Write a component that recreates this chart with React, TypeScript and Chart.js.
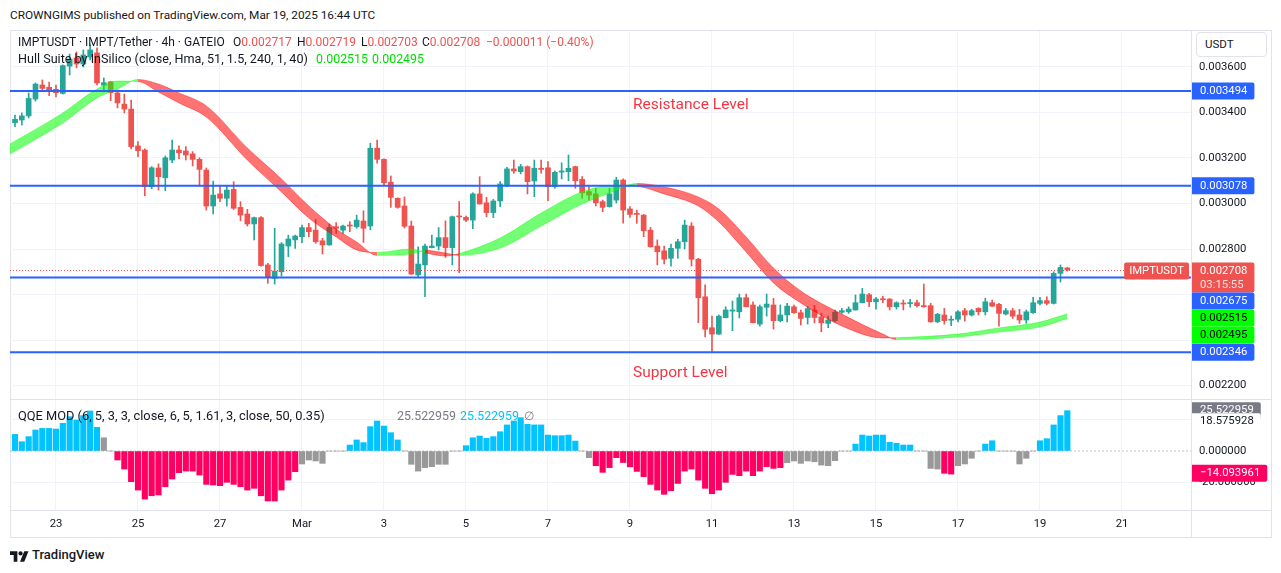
import React, { useEffect, useRef } from "react";
import { Chart, registerables } from "chart.js";

Chart.register(...registerables);

const FONT = "Roboto, 'Liberation Sans', Arial, sans-serif";

// 4-hour bars, index 0 = Feb 22 00:00 UTC
const tickBars = [6, 18, 30, 42, 54, 66, 78, 90, 102, 114, 126, 138, 150, 162];
const tickLabels = ["23", "25", "27", "Mar", "3", "5", "7", "9", "11", "13", "15", "17", "19", "21"];

const opens = [
  0.003355, 0.003367, 0.003385, 0.003459, 0.003521, 0.003511, 0.003502, 0.003484, 0.003604, 0.00364,
  0.003613, 0.003644, 0.003662, 0.00352, 0.003535, 0.003486, 0.003437, 0.003415, 0.003253, 0.003235,
  0.003074, 0.003156, 0.003113, 0.003191, 0.003235, 0.003231, 0.003218, 0.003194, 0.003147, 0.002989,
  0.003042, 0.003023, 0.003062, 0.002983, 0.002954, 0.00291, 0.002938, 0.00273, 0.002671, 0.0027,
  0.002813, 0.00284, 0.002854, 0.002894, 0.002883, 0.002836, 0.002818, 0.002898, 0.002883, 0.002905,
  0.002898, 0.002923, 0.002901, 0.003243, 0.003194, 0.003094, 0.003023, 0.002989, 0.002901, 0.002686,
  0.00273, 0.002806, 0.002813, 0.00285, 0.002806, 0.002945, 0.002939, 0.002927, 0.003042, 0.003003,
  0.00296, 0.003011, 0.003081, 0.003152, 0.00314, 0.003162, 0.003099, 0.003155, 0.003157, 0.003074,
  0.003138, 0.00314, 0.003162, 0.003106, 0.003052, 0.003042, 0.003008, 0.002986, 0.003015, 0.003103,
  0.002976, 0.002957, 0.002949, 0.002883, 0.002813, 0.002792, 0.002759, 0.002803, 0.002832, 0.002901,
  0.002755, 0.00259, 0.002454, 0.002426, 0.002498, 0.002527, 0.002524, 0.002586, 0.002554, 0.00247,
  0.002544, 0.002554, 0.002485, 0.00251, 0.002546, 0.00252, 0.002499, 0.002532, 0.002502, 0.002473,
  0.002485, 0.002522, 0.002524, 0.002532, 0.002564, 0.002599, 0.002568, 0.00258, 0.00258, 0.002546,
  0.002561, 0.00256, 0.002564, 0.002551, 0.002551, 0.00248, 0.00251, 0.002487, 0.002491, 0.002529,
  0.00251, 0.002539, 0.002524, 0.002564, 0.002557, 0.002514, 0.002529, 0.00251, 0.002488, 0.00252,
  0.002561, 0.002573, 0.002561, 0.002693, 0.002717,
];
const highs = [
  0.003389, 0.003398, 0.003486, 0.00353, 0.003543, 0.003534, 0.003521, 0.003609, 0.003657, 0.003666,
  0.003675, 0.003697, 0.003684, 0.003552, 0.003536, 0.003499, 0.003481, 0.003455, 0.003272, 0.00324,
  0.003162, 0.003174, 0.003209, 0.003279, 0.003253, 0.00325, 0.003228, 0.003201, 0.003156, 0.003099,
  0.003077, 0.003077, 0.003096, 0.003008, 0.002974, 0.00294, 0.002942, 0.002737, 0.002891, 0.002828,
  0.002861, 0.002861, 0.002905, 0.002913, 0.00293, 0.002847, 0.00291, 0.002916, 0.002905, 0.00292,
  0.002949, 0.002968, 0.003265, 0.003279, 0.003196, 0.003121, 0.003025, 0.003029, 0.002923, 0.002809,
  0.002822, 0.002861, 0.002894, 0.002924, 0.002945, 0.003008, 0.002945, 0.003047, 0.003118, 0.003027,
  0.003018, 0.003096, 0.003159, 0.003191, 0.003172, 0.003165, 0.003191, 0.003191, 0.003184, 0.003143,
  0.003179, 0.003213, 0.003164, 0.003118, 0.003074, 0.003067, 0.003015, 0.003067, 0.003115, 0.003108,
  0.002986, 0.002971, 0.002952, 0.002895, 0.00284, 0.002813, 0.002822, 0.002843, 0.002927, 0.002916,
  0.002759, 0.002642, 0.002505, 0.00251, 0.002546, 0.002571, 0.002602, 0.002602, 0.002568, 0.002554,
  0.002602, 0.002583, 0.002554, 0.002561, 0.002554, 0.002532, 0.002547, 0.002552, 0.002517, 0.002505,
  0.002532, 0.002539, 0.002546, 0.002598, 0.002627, 0.002605, 0.002588, 0.002593, 0.002582, 0.002568,
  0.002576, 0.002579, 0.002576, 0.002646, 0.002561, 0.002517, 0.002539, 0.002505, 0.002529, 0.002539,
  0.002535, 0.002542, 0.002583, 0.002576, 0.002561, 0.002539, 0.002539, 0.002535, 0.002532, 0.002588,
  0.002588, 0.00259, 0.0027, 0.00273, 0.002719,
];
const lows = [
  0.003338, 0.003345, 0.003376, 0.00345, 0.003491, 0.003474, 0.003468, 0.003481, 0.003565, 0.003596,
  0.0036, 0.003631, 0.003521, 0.00349, 0.003452, 0.00342, 0.003398, 0.00324, 0.003206, 0.003034,
  0.003065, 0.003059, 0.003056, 0.003179, 0.003196, 0.003191, 0.003165, 0.003077, 0.002971, 0.002954,
  0.003008, 0.002989, 0.002974, 0.002924, 0.002901, 0.00284, 0.002725, 0.002649, 0.002646, 0.002681,
  0.002766, 0.002803, 0.002828, 0.002854, 0.002825, 0.002778, 0.002816, 0.002869, 0.002869, 0.002876,
  0.002891, 0.002829, 0.002884, 0.003177, 0.003081, 0.002983, 0.002979, 0.002892, 0.002688, 0.002677,
  0.00259, 0.002805, 0.002796, 0.002763, 0.00273, 0.002696, 0.00292, 0.002889, 0.002997, 0.002942,
  0.002938, 0.002986, 0.003074, 0.003133, 0.00313, 0.003042, 0.00303, 0.003133, 0.003012, 0.003067,
  0.003108, 0.0031, 0.003067, 0.003023, 0.003015, 0.002989, 0.002964, 0.002984, 0.003002, 0.002913,
  0.002939, 0.002913, 0.002854, 0.002808, 0.00273, 0.002734, 0.002725, 0.002759, 0.0028, 0.002725,
  0.002476, 0.002414, 0.002345, 0.002424, 0.002497, 0.002441, 0.002497, 0.002545, 0.002475, 0.002461,
  0.002505, 0.002448, 0.00248, 0.00248, 0.002517, 0.002466, 0.00247, 0.002475, 0.002436, 0.002454,
  0.00248, 0.002517, 0.002517, 0.002531, 0.002563, 0.002546, 0.002535, 0.002564, 0.002532, 0.002536,
  0.002532, 0.002544, 0.002544, 0.002544, 0.002478, 0.002476, 0.00247, 0.002463, 0.00248, 0.002483,
  0.002505, 0.00251, 0.00251, 0.002546, 0.002461, 0.00251, 0.002495, 0.002473, 0.002473, 0.002517,
  0.002554, 0.002554, 0.002558, 0.002655, 0.002703,
];
const closes = [
  0.00337, 0.003385, 0.003462, 0.003525, 0.003506, 0.003494, 0.003487, 0.003606, 0.003635, 0.003613,
  0.003653, 0.003675, 0.00353, 0.003531, 0.003487, 0.003442, 0.003415, 0.00325, 0.003232, 0.003074,
  0.003157, 0.003118, 0.003201, 0.003235, 0.003223, 0.003213, 0.003194, 0.00315, 0.002989, 0.003037,
  0.003023, 0.003059, 0.002979, 0.002949, 0.00291, 0.002938, 0.002727, 0.002674, 0.002703, 0.002822,
  0.002844, 0.002857, 0.002894, 0.002876, 0.002832, 0.002818, 0.002895, 0.002891, 0.002901, 0.002901,
  0.002927, 0.002891, 0.003243, 0.003194, 0.003091, 0.003027, 0.002983, 0.0029, 0.00269, 0.002734,
  0.002813, 0.002813, 0.00285, 0.002806, 0.002942, 0.002941, 0.002927, 0.003042, 0.002998, 0.00296,
  0.003011, 0.003086, 0.003152, 0.003143, 0.003162, 0.003096, 0.003155, 0.00315, 0.003074, 0.003137,
  0.003143, 0.003155, 0.0031, 0.003047, 0.003037, 0.003003, 0.002983, 0.003042, 0.003103, 0.002971,
  0.002952, 0.002952, 0.00288, 0.00281, 0.002788, 0.002755, 0.002803, 0.002832, 0.002905, 0.002755,
  0.002586, 0.002447, 0.002426, 0.002505, 0.002532, 0.002532, 0.002586, 0.002546, 0.002476, 0.002546,
  0.002558, 0.002485, 0.00251, 0.002549, 0.00252, 0.002495, 0.002538, 0.002499, 0.002476, 0.002488,
  0.002522, 0.002529, 0.002536, 0.002564, 0.002602, 0.002568, 0.00258, 0.002577, 0.002546, 0.002564,
  0.002558, 0.002564, 0.002551, 0.002546, 0.00248, 0.002513, 0.002485, 0.002491, 0.002524, 0.00251,
  0.002529, 0.002524, 0.002568, 0.002549, 0.002517, 0.002529, 0.002505, 0.002488, 0.002524, 0.002564,
  0.002573, 0.002561, 0.002693, 0.002719, 0.002708,
];

// Hull Suite band: HMA and its 2-bar-lagged copy, sampled at the bars below
const hullBars = [-1, 7, 12, 15, 18, 21, 24, 28, 34, 39, 43, 47, 50, 53, 58, 60, 63, 65, 71, 77, 83, 87, 91, 95, 100, 103, 107, 111, 115, 121, 127, 129, 138, 144, 150, 154];
const hullFast = [
  0.003257, 0.003398, 0.003503, 0.003538, 0.003536, 0.00349, 0.003442, 0.00338, 0.003191, 0.003051,
  0.002936, 0.002853, 0.002796, 0.002785, 0.0028, 0.002784, 0.002769, 0.00278, 0.002848, 0.002958,
  0.003051, 0.003077, 0.003075, 0.003042, 0.002989, 0.002919, 0.002787, 0.002651, 0.002563, 0.002462,
  0.002409, 0.00241, 0.002426, 0.002453, 0.002479, 0.002515,
];
const hullSlow = [
  0.003213, 0.003354, 0.003464, 0.003503, 0.003545, 0.003525, 0.003486, 0.003429, 0.003244, 0.003108,
  0.002989, 0.002888, 0.002831, 0.002772, 0.002778, 0.002794, 0.002782, 0.002772, 0.002804, 0.002901,
  0.002998, 0.003046, 0.003088, 0.003073, 0.003029, 0.002976, 0.002853, 0.002716, 0.002615, 0.002514,
  0.002426, 0.002402, 0.002413, 0.002435, 0.002457, 0.002495,
];

const levelPrices = [0.003494, 0.003078, 0.002675, 0.002346];
const priceTicks = [0.0022, 0.0024, 0.0026, 0.0028, 0.003, 0.0032, 0.0034, 0.0036];
const hiddenPriceTicks = [0.0024, 0.0026];
const countdown = "03:15:55";

// QQE MOD histogram, one column per bar; tone b = above, p = below, g = neutral
const qqeValues = [
  10.5, 5.9, 9.1, 13.3, 14.3, 14.3, 13.9, 17.5, 21.7, 19.6,
  22.4, 25.3, 15.0, 8.4, 0, -5.7, -11.4, -19.4, -24.7, -30.4,
  -28.3, -27.8, -22.6, -17.7, -13.7, -12.7, -12.7, -15.2, -21.1, -21.5,
  -21.9, -19.8, -21.1, -22.6, -24.7, -23.6, -28.3, -31.6, -31.6, -24.7,
  -18.4, -13.1, -8.2, -5.7, -6.3, -7.8, 0, 0, 0, 3.8,
  7.0, 5.3, 15.4, 19.0, 15.8, 11.6, 7.0, 0, -8.4, -12.7,
  -10.5, -9.9, -8.4, -8.4, 0, 0, 3.4, 8.4, 9.5, 8.0,
  9.1, 12.2, 16.5, 19.0, 21.1, 16.9, 16.5, 16.5, 10.1, 9.7,
  9.7, 10.1, 6.3, 0, -4.2, -9.3, -13.5, -10.5, -4.2, -7.3,
  -10.0, -12.9, -16.2, -21.1, -24.7, -27.4, -25.1, -20.5, -12.7, -11.4,
  -18.4, -23.6, -27.0, -24.7, -19.8, -14.8, -15.6, -12.7, -15.6, -12.7,
  -9.9, -11.0, -10.5, -7.4, -6.3, -7.8, -6.3, -6.8, -8.9, -9.3,
  -6.1, 0, 0, 4.4, 10.1, 9.5, 10.1, 10.1, 5.5, 4.9,
  3.8, 3.8, 0, 0, -11.0, -11.4, -14.1, -14.6, -9.3, -8.2,
  -4.6, 0, 4.4, 6.5, 0, 0, 0, -8.2, -4.6, 0,
  6.5, 7.8, 16.5, 22.4, 25.522959,
];
const qqeTones = (
  "bbbbbbbbbb" + "bbbggppppp" + "pppppppppp" + "pppppppppp" + "ppgggggggb" +
  "bbbbbbbggg" + "ggggggbbbb" + "bbbbbbbbbb" + "bbbggppppp" + "pppppppppp" +
  "pppppppppp" + "pppggggggg" + "gggbbbbbbb" + "bbggggppgg" + "ggbbgggggg" + "bbbbb"
).split("");
const qqeTicks = [-20, 0, 20];
const qqeHiddenTicks = [20];
const qqeSecondary = -14.093961;
const qqeUpper = 18.575928;

// view ranges
const xMin = -0.73;
const xMax = 172.1;
const yMin = 0.0021407;
const yMax = 0.0037582;
const qMin = -37.3;
const qMax = 32.9;

const UP = "#26a69a";
const DOWN = "#ef5350";
const BLUE = "#2962ff";
const GRID = "#f0f3fa";
const FRAME = "#e0e3eb";
const TEXT = "#131722";
const TONE: Record<string, string> = { b: "#00c3ff", p: "#ff0062", g: "#999999" };

const last = opens.length - 1;
const fmt = (v: number) => v.toFixed(6).replace("-", "\u2212");
const hullRising = (k: number) => hullFast[k] >= hullSlow[k];

const AXIS_FONT = { family: FONT, size: 11.3 };

function layoutTags(tags: any[], minTop: number) {
  const sorted = [...tags].sort((a, b) => a.py - b.py);
  let bottom = minTop;
  for (const t of sorted) {
    const h = t.rows.length > 1 ? 30 : 17;
    let top = t.rows.length > 1 ? t.py - 7.5 : t.py - 8.5;
    if (top < bottom) top = bottom;
    t.top = top;
    t.h = h;
    bottom = top + h;
  }
  return sorted;
}

const overlayPlugin = {
  id: "paneOverlay",
  afterDraw(chart: any) {
    const { ctx, chartArea, scales } = chart;
    const y = scales.y;
    const yq = scales.yq;
    const x = scales.x;
    const W = chart.width;
    const H = chart.height;
    ctx.save();

    // pane frame
    ctx.strokeStyle = FRAME;
    ctx.lineWidth = 1;
    ctx.beginPath();
    ctx.moveTo(Math.round(y.left) + 0.5, 0);
    ctx.lineTo(Math.round(y.left) + 0.5, H);
    ctx.moveTo(0, Math.round(yq.top) + 0.5);
    ctx.lineTo(W, Math.round(yq.top) + 0.5);
    ctx.moveTo(0, Math.round(x.top) + 0.5);
    ctx.lineTo(W, Math.round(x.top) + 0.5);
    ctx.stroke();

    ctx.font = `${AXIS_FONT.size}px ${FONT}`;
    ctx.textBaseline = "middle";

    // last price line and symbol tag
    const lastPx = y.getPixelForValue(closes[last]);
    const symText = "IMPTUSDT";
    const symW = ctx.measureText(symText).width + 10;
    const symRight = y.left - 2;
    const symLeft = symRight - symW;
    ctx.strokeStyle = DOWN;
    ctx.setLineDash([1, 2]);
    ctx.beginPath();
    ctx.moveTo(chartArea.left, Math.round(lastPx) + 0.5);
    ctx.lineTo(symLeft, Math.round(lastPx) + 0.5);
    ctx.stroke();
    ctx.setLineDash([]);
    ctx.fillStyle = DOWN;
    ctx.beginPath();
    ctx.roundRect(symLeft, lastPx - 7.5, symW, 17, 2);
    ctx.fill();
    ctx.fillStyle = "#ffffff";
    ctx.fillText(symText, symLeft + 5, lastPx + 1);

    const boxLeft = y.left + 1;
    const drawTags = (list: any[]) => {
      for (const t of list) {
        const w = Math.max(...t.rows.map((r: string) => ctx.measureText(r).width)) + 15;
        ctx.fillStyle = t.bg;
        ctx.beginPath();
        ctx.roundRect(boxLeft, t.top, w, t.h, [0, 2, 2, 0]);
        ctx.fill();
        t.rows.forEach((r: string, k: number) => {
          ctx.fillStyle = k === 0 ? t.fg : "rgba(255,255,255,0.82)";
          ctx.fillText(r, boxLeft + 8, t.top + 8.5 + k * 14);
        });
      }
    };

    const priceTags = [
      ...levelPrices.map((p) => ({ py: y.getPixelForValue(p), rows: [fmt(p)], bg: BLUE, fg: "#ffffff" })),
      { py: lastPx, rows: [fmt(closes[last]), countdown], bg: DOWN, fg: "#ffffff" },
      { py: y.getPixelForValue(hullFast[hullFast.length - 1]), rows: [fmt(hullFast[hullFast.length - 1])], bg: "#00ff00", fg: "#000000" },
      { py: y.getPixelForValue(hullSlow[hullSlow.length - 1]), rows: [fmt(hullSlow[hullSlow.length - 1])], bg: "#00ff00", fg: "#000000" },
    ];
    drawTags(layoutTags(priceTags, y.top));

    // QQE pane tags: histogram value, upper band (plain, white backed), secondary line
    drawTags(layoutTags([{ py: yq.getPixelForValue(qqeValues[last]), rows: [fmt(qqeValues[last])], bg: "#787b86", fg: "#ffffff" }], yq.top + 1));
    drawTags(layoutTags([{ py: yq.getPixelForValue(qqeUpper), rows: [fmt(qqeUpper)], bg: "#ffffff", fg: TEXT }], yq.top + 1));
    drawTags(layoutTags([{ py: yq.getPixelForValue(qqeSecondary), rows: [fmt(qqeSecondary)], bg: "#ff0062", fg: "#ffffff" }], yq.top + 1));

    ctx.restore();
  },
};

function Txt(props: { x: number; y: number; size: number; color?: string; weight?: number; children: any }) {
  const lh = Math.round(props.size * 1.35);
  return (
    <div
      style={{
        position: "absolute",
        left: props.x,
        top: props.y - lh / 2,
        lineHeight: `${lh}px`,
        fontSize: props.size,
        color: props.color || TEXT,
        fontWeight: props.weight || 400,
        whiteSpace: "nowrap",
        pointerEvents: "none",
      }}
    >
      {props.children}
    </div>
  );
}

export default function App() {
  const canvasRef = useRef<HTMLCanvasElement | null>(null);

  useEffect(() => {
    const idx = opens.map((_, i) => i);
    const candleColors = idx.map((i) => (closes[i] >= opens[i] ? UP : DOWN));
    const green = (a: number) => `rgba(0,255,0,${a})`;
    const red = (a: number) => `rgba(255,0,0,${a})`;

    const datasets: any[] = [
      ...levelPrices.map((p) => ({
        type: "line",
        yAxisID: "y",
        data: [
          { x: xMin, y: p },
          { x: xMax, y: p },
        ],
        borderColor: BLUE,
        borderWidth: 2,
        pointRadius: 0,
        order: 0,
      })),
      {
        type: "line",
        yAxisID: "y",
        data: hullBars.map((b, k) => ({ x: b, y: hullFast[k] })),
        cubicInterpolationMode: "monotone",
        borderWidth: 1,
        pointRadius: 0,
        fill: "+1",
        segment: {
          borderColor: (c: any) => (hullRising(c.p0DataIndex) ? green(0.4) : red(0.4)),
          backgroundColor: (c: any) => (hullRising(c.p0DataIndex) ? green(0.55) : red(0.55)),
        },
        order: 1,
      },
      {
        type: "line",
        yAxisID: "y",
        data: hullBars.map((b, k) => ({ x: b, y: hullSlow[k] })),
        cubicInterpolationMode: "monotone",
        borderWidth: 1,
        pointRadius: 0,
        fill: false,
        segment: {
          borderColor: (c: any) => (hullRising(c.p0DataIndex) ? green(0.4) : red(0.4)),
        },
        order: 1,
      },
      {
        type: "bar",
        yAxisID: "y",
        data: idx.map((i) => ({ x: i, y: [opens[i], closes[i]] })),
        backgroundColor: candleColors,
        barThickness: 5,
        minBarLength: 1,
        grouped: false,
        order: 4,
      },
      {
        type: "bar",
        yAxisID: "y",
        data: idx.map((i) => ({ x: i, y: [lows[i], highs[i]] })),
        backgroundColor: candleColors,
        barThickness: 1,
        grouped: false,
        order: 5,
      },
      {
        type: "bar",
        yAxisID: "yq",
        data: idx.map((i) => ({ x: i, y: qqeValues[i] })),
        backgroundColor: idx.map((i) => TONE[qqeTones[i]]),
        barThickness: 5.5,
        grouped: false,
        order: 4,
      },
      {
        type: "line",
        yAxisID: "yq",
        data: [
          { x: xMin, y: 0 },
          { x: xMax, y: 0 },
        ],
        borderColor: "rgba(120,123,134,0.45)",
        borderWidth: 1,
        borderDash: [2, 2],
        pointRadius: 0,
        order: 3,
      },
    ];

    const chart = new Chart(canvasRef.current as HTMLCanvasElement, {
      type: "bar",
      data: { datasets },
      options: {
        animation: false,
        responsive: false,
        devicePixelRatio: 1,
        events: [],
        layout: { padding: 0, autoPadding: false },
        plugins: { legend: { display: false }, tooltip: { enabled: false } },
        scales: {
          x: {
            type: "linear",
            min: xMin,
            max: xMax,
            offset: false,
            position: "bottom",
            grid: { color: GRID, drawTicks: false, offset: false },
            border: { display: false },
            ticks: {
              font: AXIS_FONT,
              color: TEXT,
              padding: 7,
              maxRotation: 0,
              autoSkip: false,
              callback: (v: any) => {
                const k = tickBars.indexOf(v);
                return k >= 0 ? tickLabels[k] : "";
              },
            },
            afterBuildTicks: (s: any) => {
              s.ticks = tickBars.map((v) => ({ value: v }));
            },
            afterFit: (s: any) => {
              s.height = 27;
              s.paddingLeft = 0;
              s.paddingRight = 0;
            },
          },
          y: {
            type: "linear",
            position: "right",
            stack: "panes",
            stackWeight: 368,
            min: yMin,
            max: yMax,
            grid: { color: GRID, drawTicks: false },
            border: { display: false },
            ticks: {
              font: AXIS_FONT,
              color: TEXT,
              padding: 8,
              callback: (v: any) => (hiddenPriceTicks.includes(v) ? "" : Number(v).toFixed(6)),
            },
            afterBuildTicks: (s: any) => {
              s.ticks = priceTicks.map((v) => ({ value: v }));
            },
            afterFit: (s: any) => {
              s.width = 80;
              s.paddingTop = 0;
              s.paddingBottom = 0;
            },
          },
          yq: {
            type: "linear",
            position: "right",
            stack: "panes",
            stackWeight: 111,
            min: qMin,
            max: qMax,
            grid: {
              color: (c: any) => (c.tick && c.tick.value === 0 ? "rgba(0,0,0,0)" : GRID),
              drawTicks: false,
            },
            border: { display: false },
            ticks: {
              font: AXIS_FONT,
              color: TEXT,
              padding: 8,
              callback: (v: any) => (qqeHiddenTicks.includes(v) ? "" : Number(v).toFixed(6)),
            },
            afterBuildTicks: (s: any) => {
              s.ticks = qqeTicks.map((v) => ({ value: v }));
            },
            afterFit: (s: any) => {
              s.width = 80;
              s.paddingTop = 0;
              s.paddingBottom = 0;
            },
          },
        },
      } as any,
      plugins: [overlayPlugin],
    } as any);

    return () => chart.destroy();
  }, []);

  const change = closes[last] - closes[last - 1];
  const pct = (change / closes[last - 1]) * 100;
  const red = "#ef5350";
  const lime = "#00dd00";

  return (
    <div
      style={{
        position: "fixed",
        left: 0,
        top: 0,
        width: 1281,
        height: 573,
        background: "#ffffff",
        overflow: "hidden",
        fontFamily: FONT,
      }}
    >
      <Txt x={10} y={15} size={11.8}>
        CROWNGIMS published on TradingView.com, Mar 19, 2025 16:44 UTC
      </Txt>

      <div
        style={{
          position: "absolute",
          left: 10,
          top: 30,
          width: 1262,
          height: 508,
          boxSizing: "border-box",
          border: `1px solid ${FRAME}`,
        }}
      />
      <canvas
        ref={canvasRef}
        width={1261}
        height={506}
        style={{ position: "absolute", left: 10, top: 31, width: 1261, height: 506 }}
      />

      <Txt x={18} y={42} size={12}>IMPTUSDT · IMPT/Tether · 4h · GATEIO</Txt>
      <Txt x={233} y={42} size={12}>
        O<span style={{ color: red }}>{fmt(opens[last])}</span>
      </Txt>
      <Txt x={297} y={42} size={12}>
        H<span style={{ color: red }}>{fmt(highs[last])}</span>
      </Txt>
      <Txt x={361} y={42} size={12}>
        L<span style={{ color: red }}>{fmt(lows[last])}</span>
      </Txt>
      <Txt x={422} y={42} size={12}>
        C<span style={{ color: red }}>{fmt(closes[last])}</span>
      </Txt>
      <Txt x={486} y={42} size={12} color={red}>
        {fmt(change)} ({pct.toFixed(2).replace("-", "\u2212")}%)
      </Txt>

      <Txt x={18} y={58} size={12.6}>Hull Suite by InSilico (close, Hma, 51, 1.5, 240, 1, 40)</Txt>
      <Txt x={316} y={58} size={12.4} color={lime}>{fmt(hullFast[hullFast.length - 1])}</Txt>
      <Txt x={372} y={58} size={12.4} color={lime}>{fmt(hullSlow[hullSlow.length - 1])}</Txt>

      <Txt x={633} y={104} size={15.5} color="#f23645">Resistance Level</Txt>
      <Txt x={633} y={372} size={15.5} color="#f23645">Support Level</Txt>

      <Txt x={18} y={415} size={12.8}>QQE MOD (6, 5, 3, 3, close, 6, 5, 1.61, 3, close, 50, 0.35)</Txt>
      <Txt x={397} y={415} size={12.4} color="#787b86">{fmt(qqeValues[last])}</Txt>
      <Txt x={460} y={415} size={12.4} color="#00c3ff">{fmt(qqeValues[last])}</Txt>
      <Txt x={524} y={415} size={12.4} color="#787b86">∅</Txt>

      <div
        style={{
          position: "absolute",
          left: 1196,
          top: 32,
          width: 71,
          height: 25,
          boxSizing: "border-box",
          border: `1px solid ${FRAME}`,
          borderRadius: 4,
          background: "#ffffff",
          fontSize: 11.5,
          lineHeight: "23px",
          paddingLeft: 8,
          color: TEXT,
        }}
      >
        USDT
      </div>

      <svg
        style={{ position: "absolute", left: 10, top: 549 }}
        width={19}
        height={13}
        viewBox="0 0 36 24"
      >
        <path d="M14 24H7V11H0V4h14v20z" fill="#131722" />
        <circle cx="20" cy="8" r="4" fill="#131722" />
        <path d="M27 24h-8L27 4h8z" fill="#131722" />
      </svg>
      <Txt x={32} y={555} size={13} weight={500}>TradingView</Txt>
    </div>
  );
}
